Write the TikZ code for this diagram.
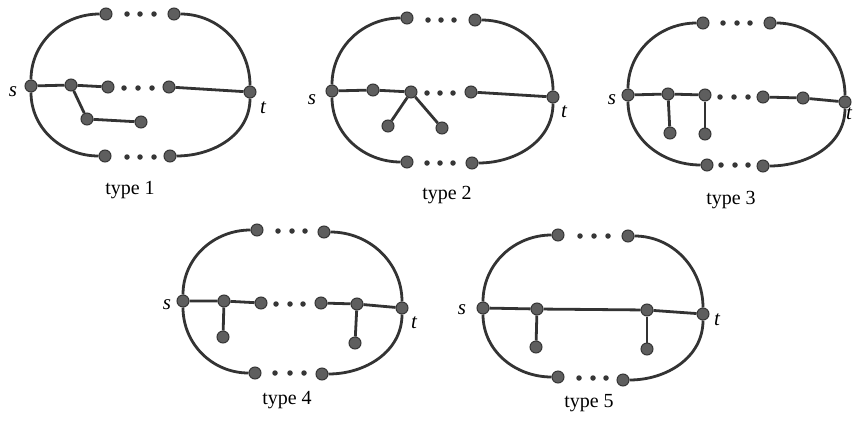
\documentclass[tikz,border=0pt]{standalone}
\usepackage{fontspec}
\setmainfont{Liberation Serif}
\definecolor{vfill}{HTML}{5E5E5E}
\definecolor{vline}{HTML}{363636}
\definecolor{eline}{HTML}{333333}
\tikzset{
  v/.style={circle, fill=vfill, draw=vline, line width=1pt, inner sep=0pt, minimum size=12pt},
  dt/.style={circle, fill=vline, inner sep=0pt, minimum size=5.5pt},
  e/.style={line width=2.8pt, draw=eline},
  lab/.style={font=\fontsize{21}{24}\selectfont\itshape, inner sep=0pt},
  typecap/.style={font=\fontsize{20}{23}\selectfont, inner sep=0pt}
}
\begin{document}
\begin{tikzpicture}[x=1pt,y=-1pt]
\useasboundingbox (0,0) rectangle (854,426);
% ---------------- type 1
\node[v] (As) at (31,86) {};
\node[v] (At) at (250,92) {};
\node[v] (Atl) at (106,14) {};
\node[v] (Atr) at (174,14) {};
\node[v] (Abl) at (105,156) {};
\node[v] (Abr) at (170,156) {};
\node[v] (Am1) at (71,85) {};
\node[v] (Am2) at (108,87) {};
\node[v] (Am3) at (169,87) {};
\node[v] (Ab1) at (87,119) {};
\node[v] (Ab2) at (141,122) {};
\node[dt] (Ad1) at (127,14) {};
\node[dt] (Ad2) at (140,14) {};
\node[dt] (Ad3) at (154,14) {};
\node[dt] (Ad4) at (124,88) {};
\node[dt] (Ad5) at (138,88) {};
\node[dt] (Ad6) at (152,88) {};
\node[dt] (Ad7) at (127,157) {};
\node[dt] (Ad8) at (140,157) {};
\node[dt] (Ad9) at (154,157) {};
\draw[e] (As) to[out=90,in=180] (Atl);
\draw[e] (Atr) to[out=0,in=90] (At);
\draw[e] (As) to[out=-90,in=180] (Abl);
\draw[e] (Abr) to[out=0,in=-90] (At);
\draw[e] (As) -- (Am1) -- (Am2);
\draw[e] (Am3) -- (At);
\draw[e] (Am1) -- (Ab1) -- (Ab2);
\node[lab] (Als) at (13,92) {s};
\node[lab] (Alt) at (263,108) {t};
\node[typecap] (Acap) at (130,190) {type 1};
% ---------------- type 2
\node[v] (Bs) at (332,91) {};
\node[v] (Bt) at (553,97) {};
\node[v] (Btl) at (407,18) {};
\node[v] (Btr) at (475,20) {};
\node[v] (Bbl) at (407,162) {};
\node[v] (Bbr) at (472,163) {};
\node[v] (Bm1) at (373,90) {};
\node[v] (Bm2) at (411,92) {};
\node[v] (Bm3) at (471,92) {};
\node[v] (Bb1) at (388,126) {};
\node[v] (Bb2) at (442,128) {};
\node[dt] (Bd1) at (428,20) {};
\node[dt] (Bd2) at (441,20) {};
\node[dt] (Bd3) at (454,20) {};
\node[dt] (Bd4) at (427,93) {};
\node[dt] (Bd5) at (440,93) {};
\node[dt] (Bd6) at (453,93) {};
\node[dt] (Bd7) at (427,163) {};
\node[dt] (Bd8) at (440,163) {};
\node[dt] (Bd9) at (453,163) {};
\draw[e] (Bs) to[out=90,in=180] (Btl);
\draw[e] (Btr) to[out=0,in=90] (Bt);
\draw[e] (Bs) to[out=-90,in=180] (Bbl);
\draw[e] (Bbr) to[out=0,in=-90] (Bt);
\draw[e] (Bs) -- (Bm1) -- (Bm2);
\draw[e] (Bm3) -- (Bt);
\draw[e] (Bm2) -- (Bb1);
\draw[e] (Bm2) -- (Bb2);
\node[lab] (Bls) at (312,100) {s};
\node[lab] (Blt) at (564,112) {t};
\node[typecap] (Bcap) at (447,195) {type 2};
% ---------------- type 3
\node[v] (Cs) at (628,95) {};
\node[v] (Ct) at (845,102) {};
\node[v] (Ctl) at (703,23) {};
\node[v] (Ctr) at (770,23) {};
\node[v] (Cbl) at (707,165) {};
\node[v] (Cbr) at (763,166) {};
\node[v] (Cm1) at (668,94) {};
\node[v] (Cm2) at (705,95) {};
\node[v] (Cm3) at (763,97) {};
\node[v] (Cm4) at (803,98) {};
\node[v] (Cb1) at (670,133) {};
\node[v] (Cb2) at (705,134) {};
\node[dt] (Cd1) at (723,23) {};
\node[dt] (Cd2) at (737,23) {};
\node[dt] (Cd3) at (750,23) {};
\node[dt] (Cd4) at (720,97) {};
\node[dt] (Cd5) at (734,97) {};
\node[dt] (Cd6) at (748,97) {};
\node[dt] (Cd7) at (721,165) {};
\node[dt] (Cd8) at (735,165) {};
\node[dt] (Cd9) at (748,165) {};
\draw[e] (Cs) to[out=90,in=180] (Ctl);
\draw[e] (Ctr) to[out=0,in=90] (Ct);
\draw[e] (Cs) to[out=-90,in=180] (Cbl);
\draw[e] (Cbr) to[out=0,in=-90] (Ct);
\draw[e] (Cs) -- (Cm1) -- (Cm2);
\draw[e] (Cm3) -- (Cm4) -- (Ct);
\draw[e] (Cm1) -- (Cb1);
\draw[e] (Cm2) -- (Cb2);
\node[lab] (Cls) at (612,100) {s};
\node[lab] (Clt) at (849,114) {t};
\node[typecap] (Ccap) at (731,200) {type 3};
% ---------------- type 4
\node[v] (Ds) at (183,301) {};
\node[v] (Dt) at (402,308) {};
\node[v] (Dtl) at (257,230) {};
\node[v] (Dtr) at (324,232) {};
\node[v] (Dbl) at (255,373) {};
\node[v] (Dbr) at (322,374) {};
\node[v] (Dm1) at (224,301) {};
\node[v] (Dm2) at (261,303) {};
\node[v] (Dm3) at (321,303) {};
\node[v] (Dm4) at (357,304) {};
\node[v] (Db1) at (223,337) {};
\node[v] (Db2) at (355,343) {};
\node[dt] (Dd1) at (278,231) {};
\node[dt] (Dd2) at (292,231) {};
\node[dt] (Dd3) at (305,231) {};
\node[dt] (Dd4) at (276,304) {};
\node[dt] (Dd5) at (290,304) {};
\node[dt] (Dd6) at (303,304) {};
\node[dt] (Dd7) at (275,373) {};
\node[dt] (Dd8) at (290,373) {};
\node[dt] (Dd9) at (304,373) {};
\draw[e] (Ds) to[out=90,in=180] (Dtl);
\draw[e] (Dtr) to[out=0,in=90] (Dt);
\draw[e] (Ds) to[out=-90,in=180] (Dbl);
\draw[e] (Dbr) to[out=0,in=-90] (Dt);
\draw[e] (Ds) -- (Dm1) -- (Dm2);
\draw[e] (Dm3) -- (Dm4) -- (Dt);
\draw[e] (Dm1) -- (Db1);
\draw[e] (Dm4) -- (Db2);
\node[lab] (Dls) at (167,305) {s};
\node[lab] (Dlt) at (414,323) {t};
\node[typecap] (Dcap) at (287,400) {type 4};
% ---------------- type 5
\node[v] (Es) at (483,308) {};
\node[v] (Et) at (703,314) {};
\node[v] (Etl) at (558,235) {};
\node[v] (Etr) at (628,236) {};
\node[v] (Ebl) at (558,377) {};
\node[v] (Ebr) at (623,380) {};
\node[v] (Em1) at (537,309) {};
\node[v] (Em2) at (647,310) {};
\node[v] (Eb1) at (536,347) {};
\node[v] (Eb2) at (647,349) {};
\node[dt] (Ed1) at (580,236) {};
\node[dt] (Ed2) at (594,236) {};
\node[dt] (Ed3) at (608,236) {};
\node[dt] (Ed7) at (579,378) {};
\node[dt] (Ed8) at (593,378) {};
\node[dt] (Ed9) at (606,378) {};
\draw[e] (Es) to[out=90,in=180] (Etl);
\draw[e] (Etr) to[out=0,in=90] (Et);
\draw[e] (Es) to[out=-90,in=180] (Ebl);
\draw[e] (Ebr) to[out=0,in=-90] (Et);
\draw[e] (Es) -- (Em1) -- (Em2) -- (Et);
\draw[e] (Em1) -- (Eb1);
\draw[e] (Em2) -- (Eb2);
\node[lab] (Els) at (462,310) {s};
\node[lab] (Elt) at (717,320) {t};
\node[typecap] (Ecap) at (589,403) {type 5};
\end{tikzpicture}
\end{document}
